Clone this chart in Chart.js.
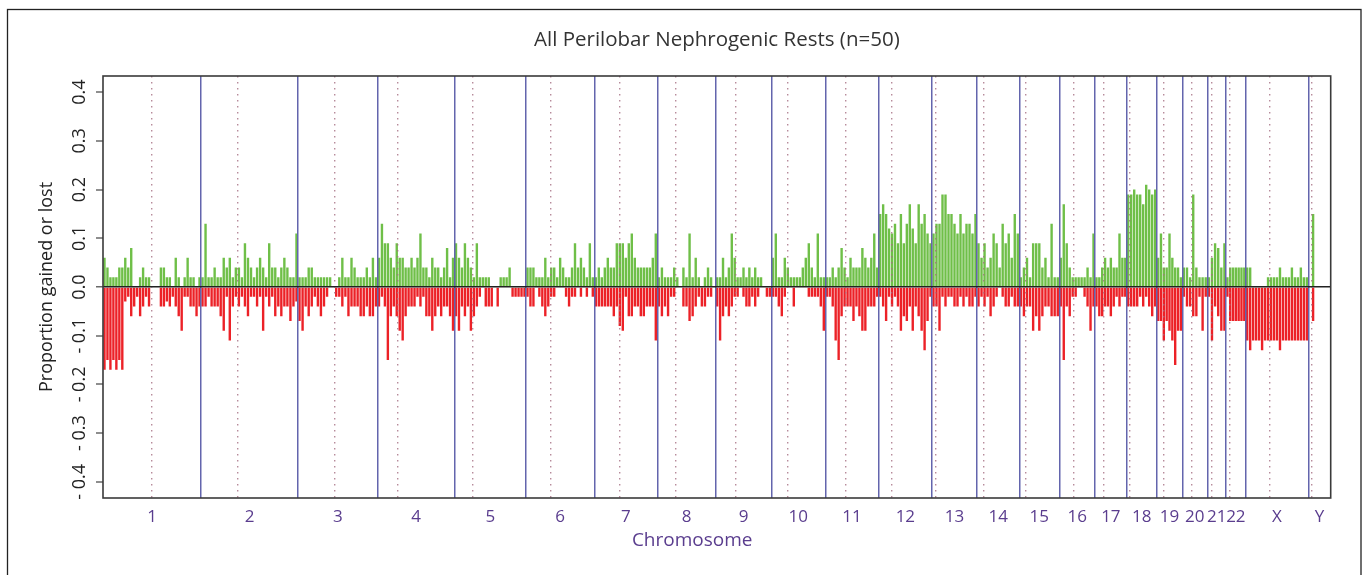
<!DOCTYPE html>
<html>
<head>
<meta charset="utf-8">
<script src="https://cdn.jsdelivr.net/npm/chart.js@4/dist/chart.umd.min.js"></script>
<style>
html,body{margin:0;padding:0;background:#fff;}
#wrap{width:1365px;height:575px;position:relative;}
</style>
</head>
<body>
<div id="wrap"><canvas id="c" width="1365" height="575"></canvas></div>
<script>
// ---- Data ----
const chromosomes = ['1','2','3','4','5','6','7','8','9','10','11','12','13','14','15','16','17','18','19','20','21','22','X','Y'];
const chromSizes = [98, 97, 79.5, 77, 71.5, 68.3, 63, 58.4, 55.6, 54, 53.4, 53.3, 45, 42.3, 40, 35.7, 31.7, 30, 25.6, 25, 18.7, 19.7, 62.6, 22.4];
const centromereOffsets = [49, 37, 37, 20.5, 18.2, 25, 25, 18.4, 20, 16, 20, 13.3, 3.3, 6.7, 6.7, 14, 8.3, 3.3, 7, 9.7, 4.4, 4, 24.3, 3.4];
const yTickValues = [-0.4, -0.3, -0.2, -0.1, 0, 0.1, 0.2, 0.3, 0.4];

const gainChr1 = [0.06,0.04,0.02,0.02,0.02,0.04,0.04,0.06,0.04,0.08,0,0,0.02,0.04,0.02,0.02,0,0,0,0.04,0.04,0.02,0.02,0,0.06,0.02,0,0.02,0.06,0.02,0.02,0,0.02];
const lossChr1 = [-0.17,-0.15,-0.17,-0.15,-0.17,-0.15,-0.17,-0.03,-0.02,-0.06,-0.04,-0.02,-0.06,-0.04,-0.02,-0.04,0,0,0,-0.04,-0.04,-0.03,-0.04,-0.02,-0.04,-0.06,-0.09,-0.02,-0.02,-0.04,-0.04,-0.06,-0.04];
const gainChr2 = [0.02,0.13,0.02,0.02,0.04,0.02,0.02,0.06,0.04,0.06,0.02,0.04,0.04,0.02,0.09,0.06,0.04,0.02,0.04,0.06,0.04,0.02,0.09,0.04,0.04,0.02,0.04,0.06,0.04,0.02,0.02,0.11];
const lossChr2 = [-0.04,-0.04,-0.02,-0.04,-0.04,-0.04,-0.06,-0.09,-0.02,-0.11,-0.04,-0.02,-0.04,-0.02,-0.04,-0.06,-0.02,-0.02,-0.04,-0.02,-0.09,-0.02,-0.04,-0.02,-0.06,-0.04,-0.06,-0.04,-0.04,-0.07,-0.04,-0.03];
const gainChr3 = [0.02,0.02,0.02,0.04,0.04,0.02,0.02,0.02,0.02,0.02,0.02,0,0,0.02,0.06,0.02,0.02,0.06,0.04,0.02,0.02,0.02,0.04,0.02,0.06,0.02];
const lossChr3 = [-0.07,-0.09,-0.04,-0.06,-0.04,-0.02,-0.04,-0.06,-0.04,-0.02,0,0,-0.02,-0.02,-0.04,-0.02,-0.06,-0.04,-0.04,-0.04,-0.06,-0.06,-0.04,-0.06,-0.06,-0.04];
const gainChr4 = [0.06,0.13,0.09,0.09,0.06,0.04,0.09,0.06,0.06,0.04,0.04,0.06,0.04,0.06,0.11,0.04,0.04,0.02,0.06,0.04,0.04,0.02,0.04,0.08,0.02,0.06];
const lossChr4 = [-0.04,-0.02,-0.04,-0.15,-0.06,-0.04,-0.06,-0.09,-0.11,-0.06,-0.04,-0.04,-0.04,-0.02,-0.04,-0.02,-0.06,-0.06,-0.09,-0.06,-0.04,-0.06,-0.04,-0.04,-0.06,-0.09];
const gainChr5 = [0.09,0.06,0.04,0.09,0.06,0.04,0.02,0.09,0.02,0.02,0.02,0.02,0,0,0,0.02,0.02,0.02,0.04,0,0,0,0,0];
const lossChr5 = [-0.06,-0.09,-0.04,-0.06,-0.04,-0.09,-0.06,-0.04,-0.02,0,-0.04,-0.04,-0.04,0,-0.04,0,0,0,0,-0.02,-0.02,-0.02,-0.02,-0.02];
const gainChr6 = [0.04,0.04,0.04,0.02,0.02,0.02,0.06,0.02,0.04,0.04,0.02,0.06,0.04,0.02,0.02,0.04,0.09,0.04,0.06,0.04,0.02,0.09,0.02];
const lossChr6 = [-0.02,-0.04,-0.04,0,-0.02,-0.04,-0.06,-0.04,-0.02,-0.02,0,0,0,-0.02,-0.04,-0.02,-0.02,0,-0.02,0,-0.02,0,-0.02];
const gainChr7 = [0.02,0.04,0.02,0.04,0.06,0.04,0.04,0.09,0.09,0.09,0.06,0.09,0.11,0.06,0.04,0.04,0.04,0.04,0.04,0.06,0.11];
const lossChr7 = [-0.04,-0.04,-0.04,-0.04,-0.04,-0.04,-0.06,-0.04,-0.08,-0.09,-0.02,-0.06,-0.06,-0.04,-0.04,-0.06,-0.06,-0.04,-0.04,-0.04,-0.11];
const gainChr8 = [0.02,0.04,0.02,0.02,0.02,0.04,0.02,0,0.04,0.02,0.11,0.02,0.06,0.02,0,0.02,0.04,0.02,0];
const lossChr8 = [-0.04,-0.06,-0.04,-0.06,-0.02,-0.02,0,0,-0.04,-0.04,-0.07,-0.06,-0.04,-0.02,-0.04,-0.04,-0.02,-0.02,0];
const gainChr9 = [0.02,0.02,0.06,0.02,0.04,0.11,0.06,0.02,0.02,0.04,0.02,0.04,0.02,0.04,0.02,0.02,0,0,0];
const lossChr9 = [-0.04,-0.11,-0.06,-0.04,-0.06,-0.04,-0.02,-0.02,0,-0.02,-0.04,-0.04,-0.02,-0.04,-0.02,0,0,-0.02,-0.02];
const gainChr10 = [0.06,0.11,0.02,0.02,0.06,0.04,0.02,0.02,0.02,0.02,0.04,0.06,0.09,0.04,0.02,0.11,0.02,0.02];
const lossChr10 = [-0.02,-0.02,-0.04,-0.06,-0.02,0,0,-0.04,0,0,0,0,-0.02,-0.02,-0.02,-0.02,-0.04,-0.09];
const gainChr11 = [0.02,0.02,0.04,0.02,0.04,0.08,0.04,0.02,0.06,0.04,0.04,0.04,0.08,0.06,0.04,0.06,0.11,0.04];
const lossChr11 = [-0.02,-0.02,-0.04,-0.11,-0.15,-0.06,-0.04,-0.04,-0.04,-0.07,-0.04,-0.06,-0.09,-0.09,-0.04,-0.04,-0.04,-0.02];
const gainChr12 = [0.15,0.17,0.15,0.12,0.11,0.13,0.09,0.15,0.09,0.13,0.17,0.12,0.09,0.17,0.13,0.15,0.11,0.09];
const lossChr12 = [-0.02,-0.04,-0.07,-0.02,-0.04,-0.02,-0.04,-0.09,-0.06,-0.07,-0.04,-0.09,-0.04,-0.06,-0.09,-0.13,-0.07,-0.02];
const gainChr13 = [0.11,0.13,0.13,0.19,0.19,0.15,0.15,0.13,0.11,0.15,0.11,0.13,0.13,0.11,0.15];
const lossChr13 = [-0.04,-0.04,-0.09,-0.02,-0.04,-0.02,-0.02,-0.04,-0.04,-0.02,-0.04,-0.02,-0.04,-0.04,-0.02];
const gainChr14 = [0.09,0.06,0.09,0.04,0.06,0.11,0.09,0.04,0.13,0.09,0.11,0.06,0.15,0.11];
const lossChr14 = [-0.04,-0.02,-0.04,-0.02,-0.06,-0.04,-0.02,0,-0.02,-0.04,-0.04,-0.02,-0.04,-0.04];
const gainChr15 = [0.02,0.04,0.06,0.02,0.09,0.09,0.09,0.04,0.06,0.02,0.13,0.02,0.02];
const lossChr15 = [-0.04,-0.06,-0.04,-0.04,-0.09,-0.06,-0.09,-0.06,-0.04,-0.04,-0.06,-0.06,-0.06];
const gainChr16 = [0.06,0.17,0.09,0.04,0.02,0.02,0.02,0.02,0.02,0.04,0.02,0.11];
const lossChr16 = [-0.04,-0.15,-0.04,-0.06,-0.02,-0.02,0,0,-0.02,-0.04,-0.09,-0.04];
const gainChr17 = [0.02,0.02,0.04,0.06,0.04,0.06,0.04,0.04,0.11,0.06,0.06];
const lossChr17 = [-0.04,-0.06,-0.06,-0.04,-0.04,-0.06,-0.04,-0.02,-0.04,-0.02,-0.02];
const gainChr18 = [0.19,0.19,0.2,0.19,0.19,0.17,0.21,0.2,0.19,0.2];
const lossChr18 = [-0.04,-0.04,-0.04,-0.04,-0.02,-0.04,-0.02,-0.04,-0.06,-0.04];
const gainChr19 = [0.06,0.11,0.04,0.04,0.11,0.06,0.04,0.04,0.02];
const lossChr19 = [-0.07,-0.07,-0.11,-0.07,-0.09,-0.11,-0.16,-0.09,-0.09];
const gainChr20 = [0.04,0.04,0.02,0.19,0.04,0.02,0.02,0.02];
const lossChr20 = [-0.02,-0.04,-0.04,-0.06,-0.06,-0.02,-0.09,-0.02];
const gainChr21 = [0.02,0.06,0.09,0.08,0.04,0.09];
const lossChr21 = [-0.02,-0.11,-0.04,-0.06,-0.09,-0.09];
const gainChr22 = [0.02,0.04,0.04,0.04,0.04,0.04,0.04];
const lossChr22 = [-0.02,-0.07,-0.07,-0.07,-0.07,-0.07,-0.07];
const gainChrX = [0.04,0.04,0,0,0,0,0,0.02,0.02,0.02,0.02,0.04,0.02,0.02,0.02,0.04,0.02,0.02,0.04,0.02,0.02];
const lossChrX = [-0.11,-0.13,-0.11,-0.11,-0.11,-0.13,-0.11,-0.11,-0.11,-0.11,-0.11,-0.13,-0.11,-0.11,-0.11,-0.11,-0.11,-0.11,-0.11,-0.11,-0.11];
const gainChrY = [0,0.15,0,0,0,0,0];
const lossChrY = [0,-0.07,0,0,0,0,0];

const gainArrays = [gainChr1,gainChr2,gainChr3,gainChr4,gainChr5,gainChr6,gainChr7,gainChr8,gainChr9,gainChr10,gainChr11,gainChr12,gainChr13,gainChr14,gainChr15,gainChr16,gainChr17,gainChr18,gainChr19,gainChr20,gainChr21,gainChr22,gainChrX,gainChrY];
const lossArrays = [lossChr1,lossChr2,lossChr3,lossChr4,lossChr5,lossChr6,lossChr7,lossChr8,lossChr9,lossChr10,lossChr11,lossChr12,lossChr13,lossChr14,lossChr15,lossChr16,lossChr17,lossChr18,lossChr19,lossChr20,lossChr21,lossChr22,lossChrX,lossChrY];

// ---- Derived genome coordinates ----
const chromStarts = [];
let genomeLength = 0;
chromSizes.forEach(s => { chromStarts.push(genomeLength); genomeLength += s; });
const chromCenters = chromStarts.map((s, i) => s + chromSizes[i] / 2);
const centromeres = chromStarts.map((s, i) => s + centromereOffsets[i]);
const boundaries = chromStarts.slice(1);

function toPoints(arrays) {
  const pts = [];
  arrays.forEach((vals, c) => {
    const w = chromSizes[c] / vals.length;
    vals.forEach((v, i) => pts.push({ x: chromStarts[c] + (i + 0.5) * w, y: v }));
  });
  return pts;
}

const FONT = 'Open Sans';
const PURPLE = '#5a3d8e';

const framePlugin = {
  id: 'frames',
  afterDraw(chart) {
    const ctx = chart.ctx, a = chart.chartArea;
    ctx.save();
    ctx.strokeStyle = '#3a3a3a';
    ctx.lineWidth = 1.6;
    ctx.strokeRect(a.left, a.top, a.right - a.left, a.bottom - a.top);
    ctx.strokeStyle = '#222';
    ctx.lineWidth = 1.3;
    ctx.strokeRect(7.5, 9.5, 1353.5, 600);
    ctx.restore();
  }
};

new Chart(document.getElementById('c'), {
  type: 'bar',
  data: {
    datasets: [
      { label: 'Gained', data: toPoints(gainArrays), backgroundColor: '#6fbf48', borderWidth: 0, grouped: false },
      { label: 'Lost', data: toPoints(lossArrays), backgroundColor: '#ec2127', borderWidth: 0, grouped: false }
    ]
  },
  options: {
    responsive: false,
    animation: false,
    devicePixelRatio: 1,
    categoryPercentage: 1,
    barPercentage: 0.85,
    layout: { padding: { left: 0, right: 34.3, top: 0, bottom: 0 } },
    plugins: {
      legend: { display: false },
      tooltip: { enabled: false },
      title: {
        display: true,
        fullSize: false,
        text: 'All Perilobar Nephrogenic Rests (n=50)',
        color: '#333',
        font: { family: FONT, size: 20.5, weight: 'normal' },
        padding: { top: 28, bottom: 23.4 }
      }
    },
    scales: {
      x: {
        type: 'linear', position: 'bottom', min: 0, max: genomeLength, offset: false,
        grid: { display: false, drawTicks: false, offset: false },
        border: { display: false },
        afterBuildTicks: s => { s.ticks = chromCenters.map(v => ({ value: v })); },
        ticks: {
          autoSkip: false, maxRotation: 0, minRotation: 0, padding: 9,
          color: PURPLE, font: { family: FONT, size: 17 },
          callback: (v, i) => chromosomes[i]
        },
        title: {
          display: true, text: 'Chromosome' + '          ', color: PURPLE,
          font: { family: FONT, size: 19 }, padding: { top: 0, bottom: 23 }
        },
        afterFit: s => { s.height = 77; }
      },
      xb: {
        type: 'linear', position: 'bottom', min: 0, max: genomeLength, offset: false,
        afterBuildTicks: s => { s.ticks = boundaries.map(v => ({ value: v })); },
        ticks: { display: false },
        grid: { color: '#6365ad', lineWidth: 1.5, drawTicks: false, offset: false, z: 1 },
        border: { display: false },
        afterFit: s => { s.height = 0; }
      },
      xc: {
        type: 'linear', position: 'bottom', min: 0, max: genomeLength, offset: false,
        afterBuildTicks: s => { s.ticks = centromeres.map(v => ({ value: v })); },
        ticks: { display: false },
        grid: { color: 'rgba(165,110,130,0.8)', lineWidth: 1.4, drawTicks: false, offset: false, z: 1, borderDash: [1.5, 4.5] },
        border: { display: false, dash: [1.5, 4.5] },
        afterFit: s => { s.height = 0; }
      },
      y: {
        type: 'linear', position: 'left', min: -0.433, max: 0.433,
        afterBuildTicks: s => { s.ticks = yTickValues.map(v => ({ value: v })); },
        ticks: {
          minRotation: 90, maxRotation: 90, crossAlign: 'center', padding: -2,
          color: '#222', font: { family: FONT, size: 18 },
          callback: v => Math.abs(v) < 1e-9 ? '0.0' : (v < 0 ? '- ' + (-v).toFixed(1) : v.toFixed(1))
        },
        grid: {
          color: c => (c.tick && Math.abs(c.tick.value) < 1e-9) ? '#222' : 'rgba(0,0,0,0)',
          lineWidth: c => (c.tick && Math.abs(c.tick.value) < 1e-9) ? 1.6 : 0,
          tickColor: '#444', tickLength: 7, tickWidth: 1.2, z: 2
        },
        border: { display: false },
        title: {
          display: true, text: 'Proportion gained or lost', color: '#222',
          font: { family: FONT, size: 18 }, padding: { top: 36.2, bottom: 0 }
        },
        afterFit: s => { s.width = 103; }
      }
    }
  },
  plugins: [framePlugin]
});
</script>
</body>
</html>
